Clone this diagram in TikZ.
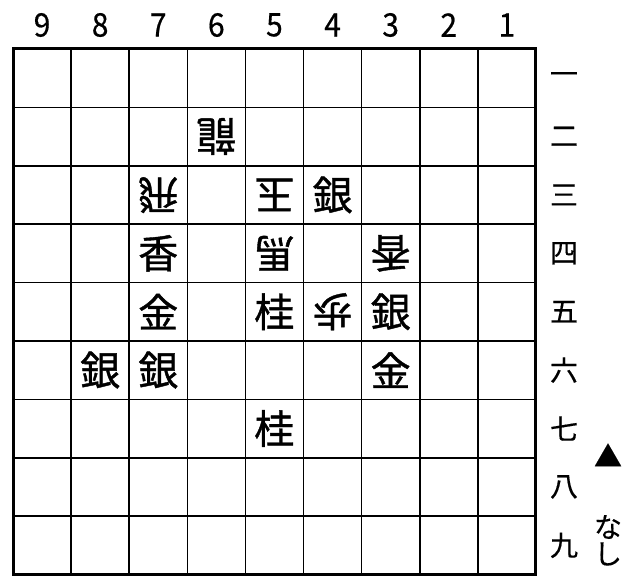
\documentclass[tikz,border=0pt]{standalone}
\usepackage{fontspec}
\setmainfont{Noto Sans CJK JP}
\newfontfamily\piecefont[FakeBold=1]{Noto Sans CJK JP}
\newfontfamily\lblfont[FakeBold=0.4]{Noto Sans CJK JP}
\begin{document}
\begin{tikzpicture}[x=1pt,y=-1pt,
  piece/.style={font=\piecefont\fontsize{40}{40}\selectfont, inner sep=0pt},
  gote/.style={piece, rotate=180},
  lbl/.style={font=\lblfont\fontsize{28}{28}\selectfont, inner sep=0pt},
  num/.style={font=\lblfont\fontsize{30}{30}\selectfont, inner sep=0pt, yscale=1.08},
  thin/.style={line width=1.6pt},
  frame/.style={line width=3pt}]
\useasboundingbox (0,0) rectangle (636,582);
% grid
\foreach \i in {1,...,8} {
  \draw[thin] ({13+\i*58.1},48.9) -- ({13+\i*58.1},574.5);
  \draw[thin] (13,{48.9+\i*58.4}) -- (535.9,{48.9+\i*58.4});
}
\draw[frame] (13,48.9) rectangle (535.9,574.5);
% column numbers
\foreach \c [count=\k from 0] in {9,8,7,6,5,4,3,2,1}
  \node[num] (col\c) at ({42.05+\k*58.1},25) {\c};
% row numbers
\foreach \r [count=\k from 0] in {一,二,三,四,五,六,七,八,九}
  \node[lbl] (row\k) at (564,{78.1+\k*58.4}) {\r};
% pieces
\node[gote]  (p62) at (216.35,136.5) {龍};
\node[gote]  (p73) at (158.25,194.9) {飛};
\node[gote]  (p53) at (274.45,194.9) {玉};
\node[piece] (p43) at (332.55,194.9) {銀};
\node[piece] (p74) at (158.25,253.3) {香};
\node[gote]  (p54) at (274.45,253.3) {馬};
\node[gote]  (p34) at (390.65,253.3) {香};
\node[piece] (p75) at (158.25,311.7) {金};
\node[piece] (p55) at (274.45,311.7) {桂};
\node[gote]  (p45) at (332.55,311.7) {歩};
\node[piece] (p35) at (390.65,311.7) {銀};
\node[piece] (p86) at (100.15,370.1) {銀};
\node[piece] (p76) at (158.25,370.1) {銀};
\node[piece] (p36) at (390.65,370.1) {金};
\node[piece] (p57) at (274.45,428.5) {桂};
% hand
\node[lbl] (sente) at (608,455) {▲};
\node[lbl] (na) at (608,527) {な};
\node[lbl] (shi) at (608,554) {し};
\end{tikzpicture}
\end{document}
